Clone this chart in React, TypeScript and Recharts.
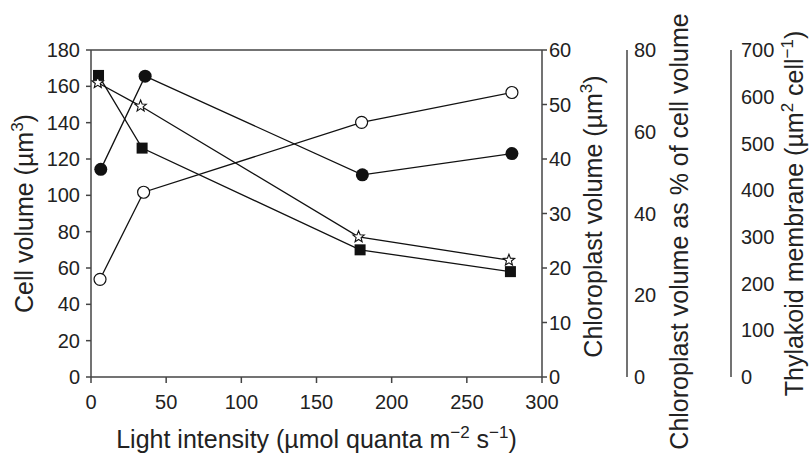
import React from "react"
import {
  LineChart,
  Line,
  XAxis,
  YAxis,
  ReferenceLine,
} from "recharts"

// light intensity (x) per series, slightly staggered as in the figure
const lightSquares = [5, 34, 179, 279]
const lightFilled = [6.5, 36, 180.5, 280]
const lightOpen = [6, 35, 180, 280]
const lightStars = [4.5, 33, 178, 278]

const cellVolume = [166, 126, 70, 58]
const chloroplastVolume = [38.1, 55.2, 37.1, 41.0]
const chloroplastPercent = [23.9, 45.2, 62.3, 69.6]
const thylakoidMembrane = [630, 580, 300, 250]

const xTicks = [0, 50, 100, 150, 200, 250, 300]
const cellTicks = [0, 20, 40, 60, 80, 100, 120, 140, 160, 180]
const chlTicks = [0, 10, 20, 30, 40, 50, 60]
const pctTicks = [0, 20, 40, 60, 80]
const thyTicks = [0, 100, 200, 300, 400, 500, 600, 700]

const zip = (xs: number[], ys: number[]) => xs.map((x, i) => ({ x, y: ys[i] }))

const FONT = "'Liberation Sans', Arial, sans-serif"
const AXIS = "#444"
const TEXT = "#222"
const tickStyle = { fontSize: 20, fill: TEXT, fontFamily: FONT }

const SquareDot = (p: any) => (
  <rect key={p.key} x={p.cx - 5.5} y={p.cy - 5.5} width={11} height={11} fill="#111" />
)
const FilledDot = (p: any) => <circle key={p.key} cx={p.cx} cy={p.cy} r={6.5} fill="#111" />
const OpenDot = (p: any) => (
  <circle key={p.key} cx={p.cx} cy={p.cy} r={6} fill="#fff" stroke="#111" strokeWidth={1.2} />
)
const StarDot = (p: any) => {
  const pts: string[] = []
  for (let i = 0; i < 10; i++) {
    const r = i % 2 === 0 ? 6 : 2.6
    const a = -Math.PI / 2 + (i * Math.PI) / 5
    pts.push(`${p.cx + r * Math.cos(a)},${p.cy + r * Math.sin(a)}`)
  }
  return <polygon key={p.key} points={pts.join(" ")} fill="#fff" stroke="#111" strokeWidth={1.1} />
}

// rotated axis title; parts: [text, isSuperscript]
const VerticalTitle = (bx: number, cy: number, parts: [string, boolean][]) => (
  <text
    x={bx}
    y={cy}
    transform={`rotate(-90, ${bx}, ${cy})`}
    textAnchor="middle"
    fontSize={25}
    fontFamily={FONT}
    fill={TEXT}
  >
    {parts.map(([t, sup], i) =>
      sup ? (
        <tspan key={i} dy={-10} fontSize={17}>{t}</tspan>
      ) : (
        <tspan key={i} dy={i > 0 && parts[i - 1][1] ? 10 : 0}>{t}</tspan>
      )
    )}
  </text>
)

export default function App() {
  return (
    <div style={{ position: "absolute", left: 0, top: 0, background: "#fff" }}>
      <LineChart
        width={810}
        height={454}
        margin={{ top: 50, right: 0, bottom: 0, left: 0 }}
      >
        <XAxis
          type="number"
          dataKey="x"
          domain={[0, 300]}
          ticks={xTicks}
          height={77}
          stroke={AXIS}
          strokeWidth={1.5}
          tickSize={6}
          tickMargin={12}
          tick={tickStyle}
          allowDuplicatedCategory={false}
          label={{
            content: (props: any) => {
              const vb = props.viewBox
              return (
                <text
                  x={vb.x + vb.width / 2}
                  y={vb.y + 71}
                  textAnchor="middle"
                  fontSize={25}
                  fontFamily={FONT}
                  fill={TEXT}
                >
                  <tspan>Light intensity (µmol quanta m</tspan>
                  <tspan dy={-10} fontSize={17}>−2</tspan>
                  <tspan dy={10}> s</tspan>
                  <tspan dy={-10} fontSize={17}>−1</tspan>
                  <tspan dy={10}>)</tspan>
                </text>
              )
            },
          }}
        />
        <YAxis
          yAxisId="cell"
          orientation="left"
          domain={[0, 180]}
          ticks={cellTicks}
          width={91}
          stroke={AXIS}
          strokeWidth={1.5}
          tickSize={5}
          tickMargin={6}
          tick={tickStyle}
          label={{
            content: (props: any) => {
              const vb = props.viewBox
              return VerticalTitle(vb.x + 33, vb.y + vb.height / 2, [
                ["Cell volume (µm", false],
                ["3", true],
                [")", false],
              ])
            },
          }}
        />
        <YAxis
          yAxisId="chl"
          orientation="right"
          domain={[0, 60]}
          ticks={chlTicks}
          width={85}
          stroke={AXIS}
          strokeWidth={1.5}
          tickSize={5}
          tickMargin={2}
          tick={tickStyle}
          label={{
            content: (props: any) => {
              const vb = props.viewBox
              return VerticalTitle(vb.x + 60, vb.y + vb.height / 2 + 3, [
                ["Chloroplast volume (µm", false],
                ["3", true],
                [")", false],
              ])
            },
          }}
        />
        <YAxis
          yAxisId="pct"
          orientation="right"
          domain={[0, 80]}
          ticks={pctTicks}
          width={104}
          stroke={AXIS}
          strokeWidth={1.5}
          tickLine={false}
          tickSize={0}
          tickMargin={7}
          tick={tickStyle}
          label={{
            content: (props: any) => {
              const vb = props.viewBox
              return VerticalTitle(vb.x + 61, vb.y + vb.height / 2 + 18, [
                ["Chloroplast volume as % of cell volume", false],
              ])
            },
          }}
        />
        <YAxis
          yAxisId="thy"
          orientation="right"
          domain={[0, 700]}
          ticks={thyTicks}
          width={79}
          stroke={AXIS}
          strokeWidth={1.5}
          tickLine={false}
          tickSize={0}
          tickMargin={10}
          tick={tickStyle}
          label={{
            content: (props: any) => {
              const vb = props.viewBox
              return VerticalTitle(vb.x + 72, vb.y + vb.height / 2, [
                ["Thylakoid membrane (µm", false],
                ["2", true],
                [" cell", false],
                ["−1", true],
                [")", false],
              ])
            },
          }}
        />
        <ReferenceLine yAxisId="cell" y={180} stroke={AXIS} strokeWidth={1.5} />
        <Line
          yAxisId="cell"
          data={zip(lightSquares, cellVolume)}
          dataKey="y"
          stroke="#111"
          strokeWidth={1.3}
          dot={SquareDot}
          isAnimationActive={false}
        />
        <Line
          yAxisId="chl"
          data={zip(lightFilled, chloroplastVolume)}
          dataKey="y"
          stroke="#111"
          strokeWidth={1.3}
          dot={FilledDot}
          isAnimationActive={false}
        />
        <Line
          yAxisId="pct"
          data={zip(lightOpen, chloroplastPercent)}
          dataKey="y"
          stroke="#111"
          strokeWidth={1.3}
          dot={OpenDot}
          isAnimationActive={false}
        />
        <Line
          yAxisId="thy"
          data={zip(lightStars, thylakoidMembrane)}
          dataKey="y"
          stroke="#111"
          strokeWidth={1.3}
          dot={StarDot}
          isAnimationActive={false}
        />
      </LineChart>
    </div>
  )
}
